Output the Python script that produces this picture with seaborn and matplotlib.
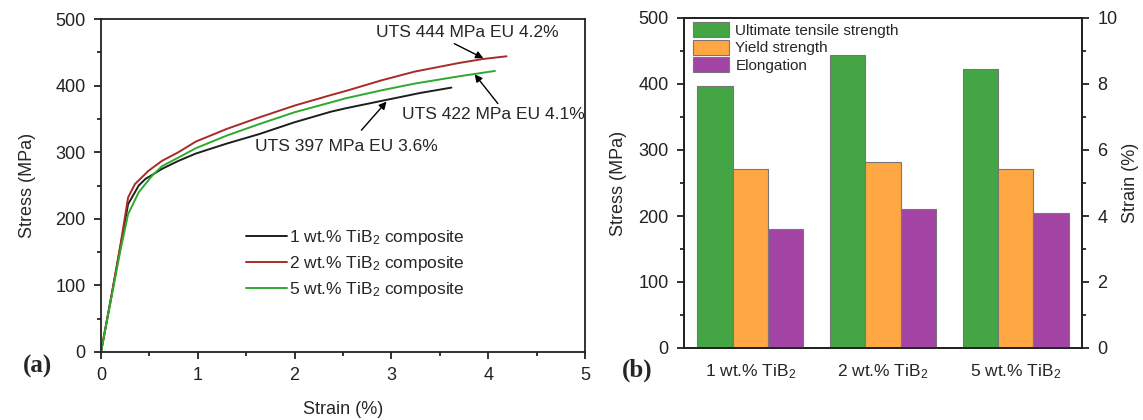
import numpy as np
import pandas as pd
import matplotlib
matplotlib.use("Agg")
import matplotlib.pyplot as plt
from matplotlib.ticker import MultipleLocator
from matplotlib.patches import Patch
import seaborn as sns

# ---------------- data ----------------
labels_a = ["1 wt.% TiB$_2$ composite", "2 wt.% TiB$_2$ composite", "5 wt.% TiB$_2$ composite"]
strain_1 = [0, 0.1, 0.2, 0.28, 0.39, 0.46, 0.53, 0.63, 0.8, 0.98, 1.3, 1.63, 2.0, 2.38, 2.53, 2.93, 3.3, 3.62]
stress_1 = [0, 78, 158, 222, 250, 260, 266, 275, 287, 298, 313, 327, 345, 361, 366, 378, 389, 397]
strain_2 = [0, 0.1, 0.2, 0.28, 0.35, 0.49, 0.63, 0.8, 0.98, 1.3, 1.63, 2.0, 2.38, 2.53, 2.9, 3.24, 3.7, 3.95, 4.19]
stress_2 = [0, 78, 160, 232, 252, 272, 287, 300, 316, 335, 352, 370, 386, 392, 408, 421, 434, 440, 444]
strain_5 = [0, 0.1, 0.2, 0.28, 0.39, 0.53, 0.63, 0.8, 0.98, 1.3, 1.63, 2.0, 2.38, 2.53, 2.9, 3.24, 3.7, 4.07]
stress_5 = [0, 76, 152, 207, 240, 265, 279, 292, 306, 325, 342, 360, 375, 381, 393, 403, 414, 422]

categories = ["1 wt.% TiB$_2$", "2 wt.% TiB$_2$", "5 wt.% TiB$_2$"]
metrics = ["Ultimate tensile strength", "Yield strength", "Elongation"]
uts = [397, 444, 422]
ys = [271, 282, 271]
elongation = [3.6, 4.2, 4.1]

line_colors = ["#1e1e1e", "#a82a2a", "#2daa2d"]
bar_colors = ["#43a543", "#ffa742", "#a444a4"]

# ---------------- style ----------------
sns.set_style("ticks")
plt.rcParams["font.family"] = ["Liberation Sans", "DejaVu Sans"]
plt.rcParams["mathtext.fontset"] = "custom"
plt.rcParams["mathtext.rm"] = "Liberation Sans"
plt.rcParams["mathtext.it"] = "Liberation Sans:italic"
plt.rcParams["axes.linewidth"] = 1.3
plt.rcParams["axes.edgecolor"] = "#222222"

fig = plt.figure(figsize=(11.43, 4.2), dpi=100)
W, H = 1143, 420
ax = fig.add_axes([101 / W, 1 - 352 / H, 484 / W, 333 / H])
bx = fig.add_axes([684 / W, 1 - 348 / H, 398 / W, 330 / H])

# ---------------- panel (a) ----------------
df_a = pd.concat([
    pd.DataFrame({"strain": strain_1, "stress": stress_1, "sample": labels_a[0]}),
    pd.DataFrame({"strain": strain_2, "stress": stress_2, "sample": labels_a[1]}),
    pd.DataFrame({"strain": strain_5, "stress": stress_5, "sample": labels_a[2]}),
], ignore_index=True)
sns.lineplot(data=df_a, x="strain", y="stress", hue="sample", hue_order=labels_a,
             palette=line_colors, linewidth=1.4, estimator=None, sort=False, ax=ax)
ax.set_xlim(0, 5)
ax.set_ylim(0, 500)
ax.xaxis.set_major_locator(MultipleLocator(1))
ax.xaxis.set_minor_locator(MultipleLocator(0.5))
ax.yaxis.set_major_locator(MultipleLocator(100))
ax.yaxis.set_minor_locator(MultipleLocator(50))
ax.tick_params(which="major", direction="out", length=5, width=1.3, labelsize=13, pad=6, colors="#222222")
ax.tick_params(which="minor", direction="out", length=3, width=1.3)
ax.set_xlabel("Strain (%)", fontsize=13, labelpad=12)
ax.set_ylabel("Stress (MPa)", fontsize=13, labelpad=14)
ax.legend(loc="upper left", bbox_to_anchor=(0.267, 0.42), frameon=False, fontsize=12.5,
          handlelength=2.35, handletextpad=0.15, labelspacing=0.4)
for s in ["top", "right"]:
    ax.spines[s].set_visible(True)

arrow_kw = dict(arrowstyle="-|>", color="black", lw=1.0, mutation_scale=11, shrinkA=0, shrinkB=0)
ax.text(3.78, 480, "UTS 444 MPa EU 4.2%", ha="center", va="center", fontsize=12.5)
ax.annotate("", xy=(3.95, 441), xytext=(3.65, 463), arrowprops=arrow_kw)
ax.text(4.05, 357, "UTS 422 MPa EU 4.1%", ha="center", va="center", fontsize=12.5)
ax.annotate("", xy=(3.86, 417), xytext=(4.1, 373), arrowprops=arrow_kw)
ax.text(2.53, 308, "UTS 397 MPa EU 3.6%", ha="center", va="center", fontsize=12.5)
ax.annotate("", xy=(2.95, 376), xytext=(2.69, 333), arrowprops=arrow_kw)

fig.text(37 / W, 1 - 366 / H, "(a)", fontsize=18, fontweight="bold",
         family=["Liberation Serif", "DejaVu Serif"], ha="center", va="center")

# ---------------- panel (b) ----------------
df_s = pd.DataFrame({
    "composite": categories * 2,
    "metric": [metrics[0]] * 3 + [metrics[1]] * 3,
    "value": uts + ys,
})
df_e = pd.DataFrame({"composite": categories, "metric": [metrics[2]] * 3, "value": elongation})
pal = dict(zip(metrics, bar_colors))

sns.barplot(data=df_s, x="composite", y="value", hue="metric", hue_order=metrics,
            order=categories, palette=pal, width=0.8, saturation=1, dodge=True,
            edgecolor="#777777", linewidth=0.8, legend=False, ax=bx)
bx2 = bx.twinx()
sns.barplot(data=df_e, x="composite", y="value", hue="metric", hue_order=metrics,
            order=categories, palette=pal, width=0.8, saturation=1, dodge=True,
            edgecolor="#777777", linewidth=0.8, legend=False, ax=bx2)
bx.set_xlim(-0.5, 2.5)
bx.set_ylim(0, 500)
bx2.set_ylim(0, 10)
bx.yaxis.set_major_locator(MultipleLocator(100))
bx.yaxis.set_minor_locator(MultipleLocator(50))
bx2.yaxis.set_major_locator(MultipleLocator(2))
bx2.yaxis.set_minor_locator(MultipleLocator(1))
for a in (bx, bx2):
    a.tick_params(axis="y", which="major", direction="out", length=5, width=1.3, labelsize=13, pad=6, colors="#222222")
    a.tick_params(axis="y", which="minor", direction="out", length=3, width=1.3)
    for s in a.spines.values():
        s.set_visible(True)
        s.set_linewidth(1.3)
bx.tick_params(axis="x", length=0, labelsize=12.5, pad=10)
bx.set_xlabel("")
bx.set_ylabel("Stress (MPa)", fontsize=13, labelpad=8)
bx2.set_ylabel("Strain (%)", fontsize=13, labelpad=3, rotation=90)

handles = [Patch(facecolor=c, edgecolor="#777777", linewidth=0.8) for c in bar_colors]
bx.legend(handles, metrics, loc="upper left", bbox_to_anchor=(-0.005, 1.02), frameon=False,
          fontsize=11, handlelength=2.4, handleheight=1.15, handletextpad=0.4,
          labelspacing=0.12, borderaxespad=0.3)

fig.text(637 / W, 1 - 370 / H, "(b)", fontsize=18, fontweight="bold",
         family=["Liberation Serif", "DejaVu Serif"], ha="center", va="center")

fig.savefig("out.png", dpi=100)
